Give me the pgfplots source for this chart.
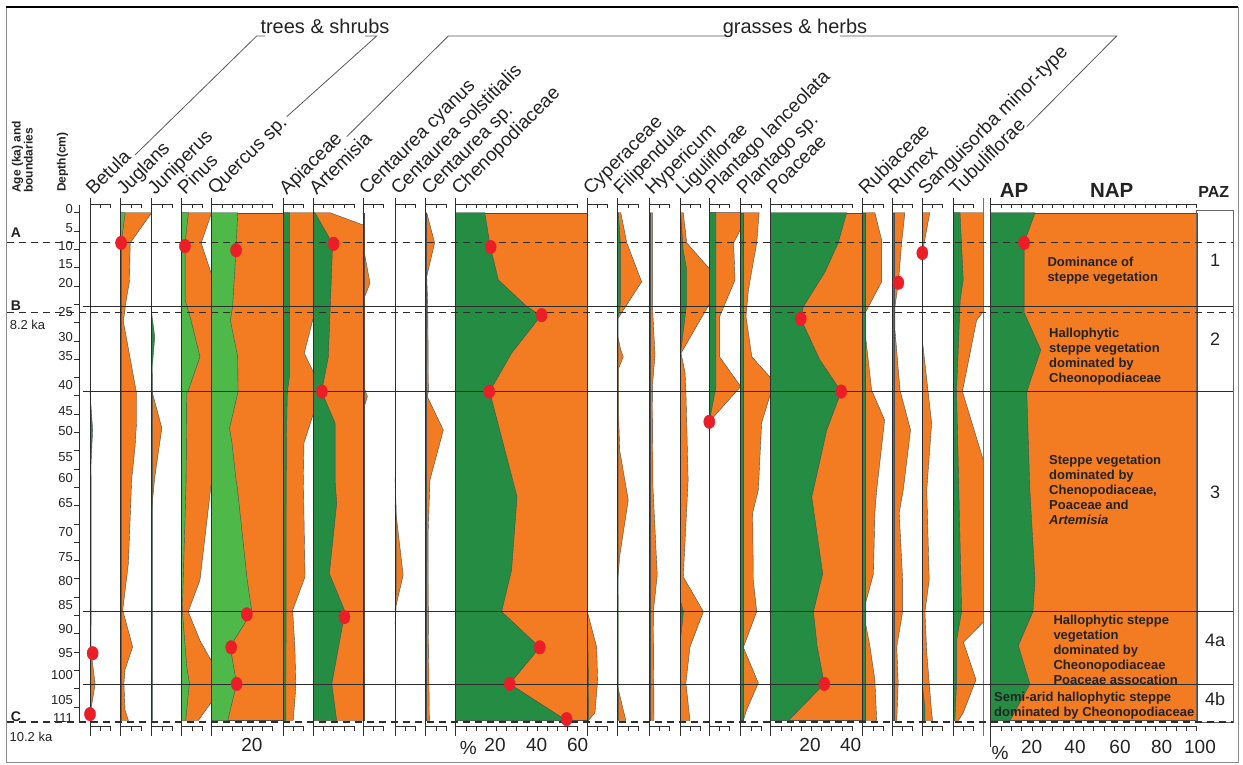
\documentclass[border=0pt]{standalone}
\usepackage{fontspec}
\setmainfont{Liberation Sans}
\usepackage{pgfplots}
\pgfplotsset{compat=1.18}
\definecolor{dg}{RGB}{37,140,68}
\definecolor{lg}{RGB}{78,184,73}
\definecolor{og}{RGB}{243,123,33}
\definecolor{rd}{RGB}{235,30,40}
\definecolor{lc}{RGB}{45,45,45}
\definecolor{tc}{RGB}{35,35,35}
\pgfplotsset{
  pnl/.style n args={3}{scale only axis, width=#2pt, height=507.8pt, at={(#1pt,43.5pt)}, anchor=south west,
    xmin=0, xmax=#3, ymin=0, ymax=111, y dir=reverse, hide axis, clip=false,
    orf/.style={fill=og, draw=black!70, line width=0.4pt, x filter/.expression={min(x,#3)}}},
  grf/.style={fill=dg, draw=black!70, line width=0.4pt},
  lgf/.style={fill=lg, draw=black!70, line width=0.4pt},
  rdot/.style={only marks, mark=*, mark size=6.8pt, mark options={fill=rd, draw=rd, xscale=0.82}},
}
\newcommand{\frm}[3]{%
  \draw[lc, line width=0.8pt] (#1,566) -- (#1,28);
  \draw[lc, line width=0.5pt] (#1,560) -- ({#1+#2*#3},560);
  \draw[lc, line width=0.5pt] (#1,38) -- ({#1+#2*#3},38);
  \foreach \k in {1,...,#2}{%
    \draw[lc, line width=0.5pt] ({#1+\k*#3},560) -- ++(0,-4);
    \draw[lc, line width=0.5pt] ({#1+\k*#3},38) -- ++(0,-5);}%
}
\newcommand{\tx}[2]{\node[rotate=45, anchor=base west, inner sep=0, font=\fontsize{19}{19}\selectfont, text=tc] at ({#1+3.5},568) {#2};}
\begin{document}
\begin{tikzpicture}[x=1pt,y=1pt]
\path[use as bounding box] (0,0) rectangle (1243,764);
\fill[white] (0,0) rectangle (1243,764);
\draw[black!45, line width=0.8pt] (6,1.5) rectangle (1238,757);
\draw[black, line width=1.6pt] (6,757) -- (1238,757);

% depth axis
\begin{axis}[scale only axis, width=1pt, height=517pt, at={(79.3pt,42pt)}, anchor=south west,
  xmin=0, xmax=1, ymin=-1.7, ymax=111.3, y dir=reverse,
  axis y line=left, axis x line=none, axis line style={-, lc, line width=0.8pt},
  ytick={-0.8,3.3,7.3,11.2,15.3,21.7,27.2,31.3,37.7,43.3,47.7,53.3,58,63.4,69.7,75.3,80.4,85.7,91,96.2,101,106.6,110.5},
  yticklabels={0,5,10,15,20,25,30,35,40,45,50,55,60,65,70,75,80,85,90,95,100,105,111},
  minor ytick={0,4,...,108},
  major tick length=0pt, minor tick length=5pt, tick align=outside,
  minor tick style={lc, line width=0.7pt},
  yticklabel style={font=\fontsize{13}{13}\selectfont, text=tc, xshift=-3pt}]
\addplot[draw=none] coordinates {(0,0)(1,111)};
\end{axis}

% 1 Betula
\begin{axis}[pnl={90}{30.7}{15.1}]
\addplot[orf] coordinates {(0,94)(2.5,103)(0.7,108)(0.5,111)(0,111)};
\addplot[grf] coordinates {(0,39.1)(1.3,47.5)(0.5,55)(0.6,70)(0.5,94)(0.4,111)(0,111)};
\end{axis}
% 2 Juglans
\begin{axis}[pnl={120.7}{31}{15.3}]
\addplot[orf] coordinates {(0,0)(999,0)(4.7,6.6)(4.3,15.1)(2.7,19.1)(1.3,23.8)(3,27.8)(6.3,35.8)(7.8,39.4)(7.8,46)(7.1,51.1)(5.4,58.4)(3.8,76.6)(1,86.9)(5.9,94.9)(2.1,99.9)(1.6,102.8)(2.1,108.7)(3.8,111)(0,111)};
\addplot[lgf] coordinates {(0,0)(2.2,0)(0.3,6.6)(0.3,111)(0,111)};
\end{axis}
% 3 Juniperus
\begin{axis}[pnl={151.7}{30}{14.8}]
\addplot[orf] coordinates {(0,38.8)(5,47.1)(1.5,57.8)(0.6,62)(0,65)};
\addplot[grf] coordinates {(0,22)(1.5,27.2)(0.4,33)(0.3,40)(0.3,111)(0,111)};
\end{axis}
% 4 Pinus
\begin{axis}[pnl={181.7}{30}{14.8}]
\addplot[orf] coordinates {(0,0)(999,0)(9.6,6.6)(999,13.6)(999,58.4)(9,80.3)(3.2,87.2)(9,93.5)(999,98.1)(999,106.9)(8.2,111)(0,111)};
\addplot[lgf] coordinates {(0,0)(3.3,0)(1.7,6.6)(1.7,19.1)(4.6,23.5)(9,31.5)(3.3,38.8)(2.5,39.4)(2.2,58.4)(0.3,86.9)(2.5,99.3)(3.8,102.8)(2,111)(0,111)};
\end{axis}
% 5 Quercus
\begin{axis}[pnl={211.7}{71.6}{35.3}]
\addplot[orf] coordinates {(0,0)(999,0)(999,111)(0,111)};
\addplot[lgf] coordinates {(0,0)(12.8,0)(12,8.2)(10.3,20.5)(9.2,23.5)(12.8,31.5)(13,39.1)(8.8,47.1)(10,50.3)(12,58.4)(12.6,60)(17.5,80.3)(19.8,87.2)(9.1,94.9)(12.3,103)(7.9,111)(0,111)};
\end{axis}
% 6 Apiaceae
\begin{axis}[pnl={283.3}{30}{14.8}]
\addplot[orf] coordinates {(0,0)(999,0)(999,23)(10.3,30.7)(999,34.8)(999,44)(10.2,50.3)(9.9,58.4)(10.7,79.6)(4.6,86.9)(5.7,94.9)(6.2,103.6)(4.9,111)(0,111)};
\addplot[grf] coordinates {(0,0)(3,0)(3,36)(2,39.1)(1.5,50)(1.3,111)(0,111)};
\end{axis}
% 7 Artemisia
\begin{axis}[pnl={313.3}{50}{24.6}]
\addplot[orf] coordinates {(0,0)(8.2,0)(999,2.7)(999,111)(0,111)};
\addplot[grf] coordinates {(0,0)(0.8,0)(9.5,6.8)(7.4,31.5)(4.1,39.1)(10.7,46)(10.7,58.4)(11.5,63.5)(7.9,78.9)(15.6,87.2)(9.1,103)(11.5,111)(0,111)};
\end{axis}
% 8 Centaurea cyanus
\begin{axis}[pnl={363.3}{31.7}{15.6}]
\addplot[orf] coordinates {(0,7.5)(3.3,15.4)(0,19.1)(0,37.7)(2,40.2)(0,43.1)};
\addplot[grf] coordinates {(0,0)(0.3,0)(0.3,111)(0,111)};
\end{axis}
% 9 Centaurea solstitialis
\begin{axis}[pnl={395}{30.7}{15.1}]
\addplot[orf] coordinates {(0,63.9)(4,79.2)(0,86.9)};
\addplot[grf] coordinates {(0,58)(0.6,65)(0.5,86.9)(0,90)};
\end{axis}
% 10 Centaurea sp.
\begin{axis}[pnl={425.7}{30}{14.8}]
\addplot[orf] coordinates {(0,0)(0.5,0)(4.4,6.6)(0.5,14)(1,20)(1.2,30)(1.3,39.1)(0.8,40.2)(8.7,47.5)(2.1,58.4)(1.2,70)(1.3,90)(1.8,111)(0,111)};
\addplot[grf] coordinates {(0,0)(0.3,0)(0.3,111)(0,111)};
\end{axis}
% 11 Chenopodiaceae
\begin{axis}[pnl={455.7}{131.6}{64.8}]
\addplot[orf] coordinates {(0,0)(999,0)(999,111)(0,111)};
\addplot[grf] coordinates {(0,0)(14.3,0)(17,7.4)(21,14.7)(35,20.5)(42,22.5)(27.5,30.7)(16.7,39.1)(30.2,62.1)(27.5,78.1)(22.6,87.2)(41.4,95)(26.6,103)(54.6,111)(0,111)};
\end{axis}
% 12 Cyperaceae
\begin{axis}[pnl={587.3}{30.4}{15}]
\addplot[orf] coordinates {(0,87.2)(4.6,94.9)(5.1,102.1)(3.8,109.3)(0.5,111)(0,111)};
\addplot[grf] coordinates {(0,86)(0.5,100)(0.7,111)(0,111)};
\end{axis}
% 13 Filipendula
\begin{axis}[pnl={617.7}{31.6}{15.6}]
\addplot[orf] coordinates {(0,0)(1.5,0)(4.5,6.6)(11.8,15.1)(0,23.2)(0,27)(1.5,30)(2.7,31.5)(0.5,34)(0.5,45)(1,52)(5.2,62.8)(1,75)(0,80.3)(0,103.6)(4,111)(0,111)};
\addplot[grf] coordinates {(0,0)(0.3,0)(1.3,6.6)(1.3,20)(0.2,23.2)(0.3,111)(0,111)};
\end{axis}
% 14 Hypericum
\begin{axis}[pnl={649.3}{30.7}{15.1}]
\addplot[orf] coordinates {(0,0)(1.5,0)(1.5,20)(2.8,31.1)(1.5,38)(1.8,60)(3.9,79.2)(2,87.2)(2.3,111)(0,111)};
\addplot[grf] coordinates {(0,0)(0.3,0)(0.3,111)(0,111)};
\end{axis}
% 15 Liguliflorae
\begin{axis}[pnl={680}{29.3}{14.4}]
\addplot[orf] coordinates {(0,0)(1.6,0)(3.3,6.6)(999,12.2)(999,20)(0.5,30.7)(2.5,35)(2.9,39.1)(4,58.4)(1.6,79.6)(11.5,87.2)(4.9,94.9)(2.9,102.8)(4.9,111)(0,111)};
\addplot[grf] coordinates {(0,0)(0.3,0)(1.5,8)(3.2,12.2)(3.2,20)(0.3,30.7)(0.3,85)(1.7,87.2)(0.3,93)(0.3,111)(0,111)};
\end{axis}
% 16 Plantago lanceolata
\begin{axis}[pnl={709.3}{31.4}{15.5}]
\addplot[orf] coordinates {(0,0)(999,0)(999,3.6)(12,6.6)(12.7,14.7)(5.1,22.7)(5.1,31.5)(999,38)(0,45.7)};
\addplot[grf] coordinates {(0,0)(3.3,0)(3.3,38)(0,45.7)};
\end{axis}
% 17 Plantago sp.
\begin{axis}[pnl={740.7}{30}{14.8}]
\addplot[orf] coordinates {(0,0)(9.1,0)(7.9,6.6)(3.8,16.9)(2.6,22.7)(5.5,31.5)(999,36.1)(999,39.4)(10.3,46)(8.7,60.6)(5.9,65.6)(6.2,80.3)(7.9,87.2)(1.3,95)(8.7,102.8)(2.9,108.7)(1.3,111)(0,111)};
\addplot[grf] coordinates {(0,0)(1.3,0)(1.3,111)(0,111)};
\end{axis}
% 18 Poaceae
\begin{axis}[pnl={770.7}{92}{45.3}]
\addplot[orf] coordinates {(0,0)(999,0)(999,111)(0,111)};
\addplot[grf] coordinates {(0,0)(37.4,0)(33.2,6.6)(26.8,12.9)(16.1,20.5)(14.8,23.2)(24.2,32.2)(34.7,39.1)(27.6,47.5)(21,60.6)(20.2,62.1)(25.6,78.9)(21,87.2)(22.9,94.9)(26.4,103)(8.7,111)(0,111)};
\end{axis}
% 19 Rubiaceae
\begin{axis}[pnl={862.7}{29.6}{14.6}]
\addplot[orf] coordinates {(0,0)(6,0)(9.3,5.9)(9.3,15.1)(0.3,22.7)(4.4,38.8)(10.8,45.3)(6.9,60.6)(6,65.6)(5.3,78.9)(0.3,87.2)(3.6,94.9)(6,102.1)(6.9,111)(0,111)};
\addplot[grf] coordinates {(0,0)(1.2,0)(1.2,111)(0,111)};
\end{axis}
% 20 Rumex
\begin{axis}[pnl={892.3}{30}{14.8}]
\addplot[orf] coordinates {(0,0)(6.2,0)(4.6,6.6)(3,15.3)(1.3,20.5)(1.3,25.6)(3.8,38.8)(9,47.5)(5.4,60.6)(3.4,65.6)(5.1,80.3)(5.1,87.2)(2.2,94.9)(2.9,102.8)(2.2,111)(0,111)};
\addplot[grf] coordinates {(0,0)(0.8,0)(0.8,111)(0,111)};
\end{axis}
% 21 Sanguisorba
\begin{axis}[pnl={922.3}{31}{15.3}]
\addplot[orf] coordinates {(0,0)(3.7,0)(0,8.8)(0,27.8)(4.6,46)(2.2,60.6)(3.4,80.3)(1.3,87.2)(2.2,96.2)(4.6,109.3)(5.1,111)(0,111)};
\addplot[grf] coordinates {(0,0)(0.2,0)(0.2,104)(1.3,108)(1.3,111)(0,111)};
\end{axis}
% 22 Tubuliflorae
\begin{axis}[pnl={953.3}{30}{14.8}]
\addplot[orf] coordinates {(0,0)(999,0)(999,21.6)(11.5,23.5)(4.5,39.1)(999,54.1)(999,89.5)(5,93.9)(11.2,102.1)(4.9,109.3)(2.5,111)(0,111)};
\addplot[grf] coordinates {(0,0)(3.3,0)(4.9,14.7)(3.4,19.1)(1.6,39.1)(4.1,87.2)(1.6,93.5)(1.6,103)(0.8,111)(0,111)};
\end{axis}
% 23 AP / NAP
\begin{axis}[pnl={990.7}{206}{100}]
\addplot[orf] coordinates {(0,0)(999,0)(999,111)(0,111)};
\addplot[grf] coordinates {(0,0)(21.5,0)(16.2,6.6)(16.2,21.8)(24.3,30)(17.5,39.1)(19,60.6)(21.5,80.3)(20.5,87.2)(13.4,94.6)(19,103)(9.4,111)(0,111)};
\end{axis}

% panel frames
\frm{90}{2}{10.15}\frm{120.7}{2}{10.15}\frm{151.7}{2}{10.15}\frm{181.7}{2}{10.15}
\frm{211.7}{6}{10.15}\frm{283.3}{2}{10.15}\frm{313.3}{4}{10.15}\frm{363.3}{2}{10.15}
\frm{395}{2}{10.15}\frm{425.7}{2}{10.15}\frm{455.7}{12}{10.15}\frm{587.3}{2}{10.15}
\frm{617.7}{2}{10.15}\frm{649.3}{2}{10.15}\frm{680}{2}{10.15}\frm{709.3}{2}{10.15}
\frm{740.7}{2}{10.15}\frm{770.7}{8}{10.15}\frm{862.7}{2}{10.15}\frm{892.3}{2}{10.15}
\frm{922.3}{2}{10.15}\frm{953.3}{2}{10.15}\frm{990.7}{20}{10.3}
\draw[black!55, line width=0.8pt] (983.3,566) -- (983.3,28);
\draw[lc, line width=0.8pt] (990.7,40) -- (990.7,17);
\draw[black!60, line width=0.8pt] (1196.7,553.3) rectangle (1233.3,42);

% zone lines
\begin{scope}[lc, line width=1pt]
\draw (83,457.3) -- (1233.3,457.3);
\draw (83,372.3) -- (1233.3,372.3);
\draw (83,152.3) -- (1233.3,152.3);
\draw (83,80) -- (1233.3,80);
\end{scope}
\begin{scope}[lc, line width=1.1pt, dash pattern=on 7pt off 5pt]
\draw (7,521.3) -- (1233.3,521.3);
\draw (7,451.7) -- (1233.3,451.7);
\draw (7,42) -- (1233.3,42);
\end{scope}

% red dots
\begin{axis}[pnl={90}{30.7}{15.1}]\addplot[rdot] coordinates {(1.3,96.3)(0,109.6)};\end{axis}
\begin{axis}[pnl={120.7}{31}{15.3}]\addplot[rdot] coordinates {(0.2,6.6)};\end{axis}
\begin{axis}[pnl={181.7}{30}{14.8}]\addplot[rdot] coordinates {(1.6,7.3)};\end{axis}
\begin{axis}[pnl={211.7}{71.6}{35.3}]\addplot[rdot] coordinates {(12,8.2)(17.3,87.8)(9.6,95)(12.3,103)};\end{axis}
\begin{axis}[pnl={313.3}{50}{24.6}]\addplot[rdot] coordinates {(10,6.8)(4.2,39.1)(15.3,88.4)};\end{axis}
\begin{axis}[pnl={455.7}{131.6}{64.8}]\addplot[rdot] coordinates {(17.2,7.5)(42.3,22.4)(16.5,39.1)(41.4,95)(26.6,103)(54.6,110.7)};\end{axis}
\begin{axis}[pnl={709.3}{31.4}{15.5}]\addplot[rdot] coordinates {(0,45.7)};\end{axis}
\begin{axis}[pnl={770.7}{92}{45.3}]\addplot[rdot] coordinates {(14.8,23.2)(34.7,39.1)(26.4,103)};\end{axis}
\begin{axis}[pnl={892.3}{30}{14.8}]\addplot[rdot] coordinates {(3,15.3)};\end{axis}
\begin{axis}[pnl={922.3}{31}{15.3}]\addplot[rdot] coordinates {(0,8.8)};\end{axis}
\begin{axis}[pnl={990.7}{206}{100}]\addplot[rdot] coordinates {(16.2,6.6)};\end{axis}

% taxon labels
\tx{90}{Betula}\tx{120.7}{Juglans}\tx{151.7}{Juniperus}\tx{181.7}{Pinus}\tx{211.7}{Quercus sp.}
\tx{283.3}{Apiaceae}\tx{313.3}{Artemisia}\tx{363.3}{Centaurea cyanus}\tx{395}{Centaurea solstitialis}
\tx{425.7}{Centaurea sp.}\tx{455.7}{Chenopodiaceae}\tx{587.3}{Cyperaceae}\tx{617.7}{Filipendula}
\tx{649.3}{Hypericum}\tx{680}{Liguliflorae}\tx{709.3}{Plantago lanceolata}\tx{740.7}{Plantago sp.}
\tx{770.7}{Poaceae}\tx{862.7}{Rubiaceae}\tx{892.3}{Rumex}\tx{922.3}{Sanguisorba minor-type}\tx{953.3}{Tubuliflorae}

% group brackets
\begin{scope}[black!65, line width=0.8pt]
\draw (135,609) -- (256.7,728) -- (265,728);
\draw (365,728) -- (376.7,728) -- (286.7,647.3);
\draw (346.7,627.3) -- (448.3,728) -- (726.7,728);
\draw (840,728) -- (1116.7,728) -- (1026.7,637.3);
\end{scope}
\node[anchor=base, font=\fontsize{20}{20}\selectfont, text=tc] at (325,730.7) {trees \& shrubs};
\node[anchor=base, font=\fontsize{20}{20}\selectfont, text=tc] at (795,730.7) {grasses \& herbs};

% left headings
\node[rotate=90, anchor=south west, inner sep=0, align=left, font=\bfseries\fontsize{12}{12}\selectfont, text=tc] at (33,571) {Age (ka) and\\boundaries};
\node[rotate=90, anchor=base west, inner sep=0, font=\bfseries\fontsize{12}{12}\selectfont, text=tc] at (65.5,572) {Depth(cm)};
\node[font=\bfseries\fontsize{14}{14}\selectfont, text=tc] at (16,531.3) {A};
\node[font=\bfseries\fontsize{14}{14}\selectfont, text=tc] at (16,458) {B};
\node[font=\fontsize{13}{13}\selectfont, text=tc] at (27.5,439) {8.2 ka};
\node[font=\bfseries\fontsize{14}{14}\selectfont, text=tc] at (16,47.5) {C};
\node[font=\fontsize{13}{13}\selectfont, text=tc] at (31,27) {10.2 ka};

% bottom scale labels
\begin{scope}[font=\fontsize{19}{19}\selectfont, text=tc]
\node at (252,19.5) {20};
\node at (468.3,16.5) {\%};
\node at (495,19) {20};
\node at (536.7,19) {40};
\node at (577.7,19) {60};
\node at (810,19) {20};
\node at (850.7,19) {40};
\node at (1000,11) {\%};
\node at (1031.7,17.3) {20};
\node at (1075,17.3) {40};
\node at (1120,17.3) {60};
\node at (1161.7,17.3) {80};
\node at (1200,17.3) {100};
\end{scope}

% AP / NAP / PAZ
\node[font=\bfseries\fontsize{20.5}{20.5}\selectfont, text=tc] at (1014,573.5) {AP};
\node[font=\bfseries\fontsize{20.5}{20.5}\selectfont, text=tc] at (1111.7,573.5) {NAP};
\node[font=\bfseries\fontsize{16}{16}\selectfont, text=tc] at (1213.7,572) {PAZ};
\begin{scope}[font=\fontsize{18}{18}\selectfont, text=tc]
\node at (1215,504) {1};
\node at (1215,425) {2};
\node at (1215,272) {3};
\node at (1215,124) {4a};
\node at (1215,65) {4b};
\end{scope}
\begin{scope}[every node/.style={anchor=north west, inner sep=0, align=left, font=\bfseries\fontsize{13}{15}\selectfont, text=tc}]
\node at (1047.3,507.1) {Dominance of\\steppe vegetation};
\node at (1049,436.1) {Hallophytic\\steppe vegetation\\dominated by\\Cheonopodiaceae};
\node at (1049,309.4) {Steppe vegetation\\dominated by\\Chenopodiaceae,\\Poaceae and\\\textit{Artemisia}};
\node at (1053.3,149.4) {Hallophytic steppe\\vegetation\\dominated by\\Cheonopodiaceae\\Poaceae assocation};
\node at (994,72.1) {Semi-arid hallophytic steppe\\dominated by Cheonopodiaceae};
\end{scope}
\end{tikzpicture}
\end{document}
